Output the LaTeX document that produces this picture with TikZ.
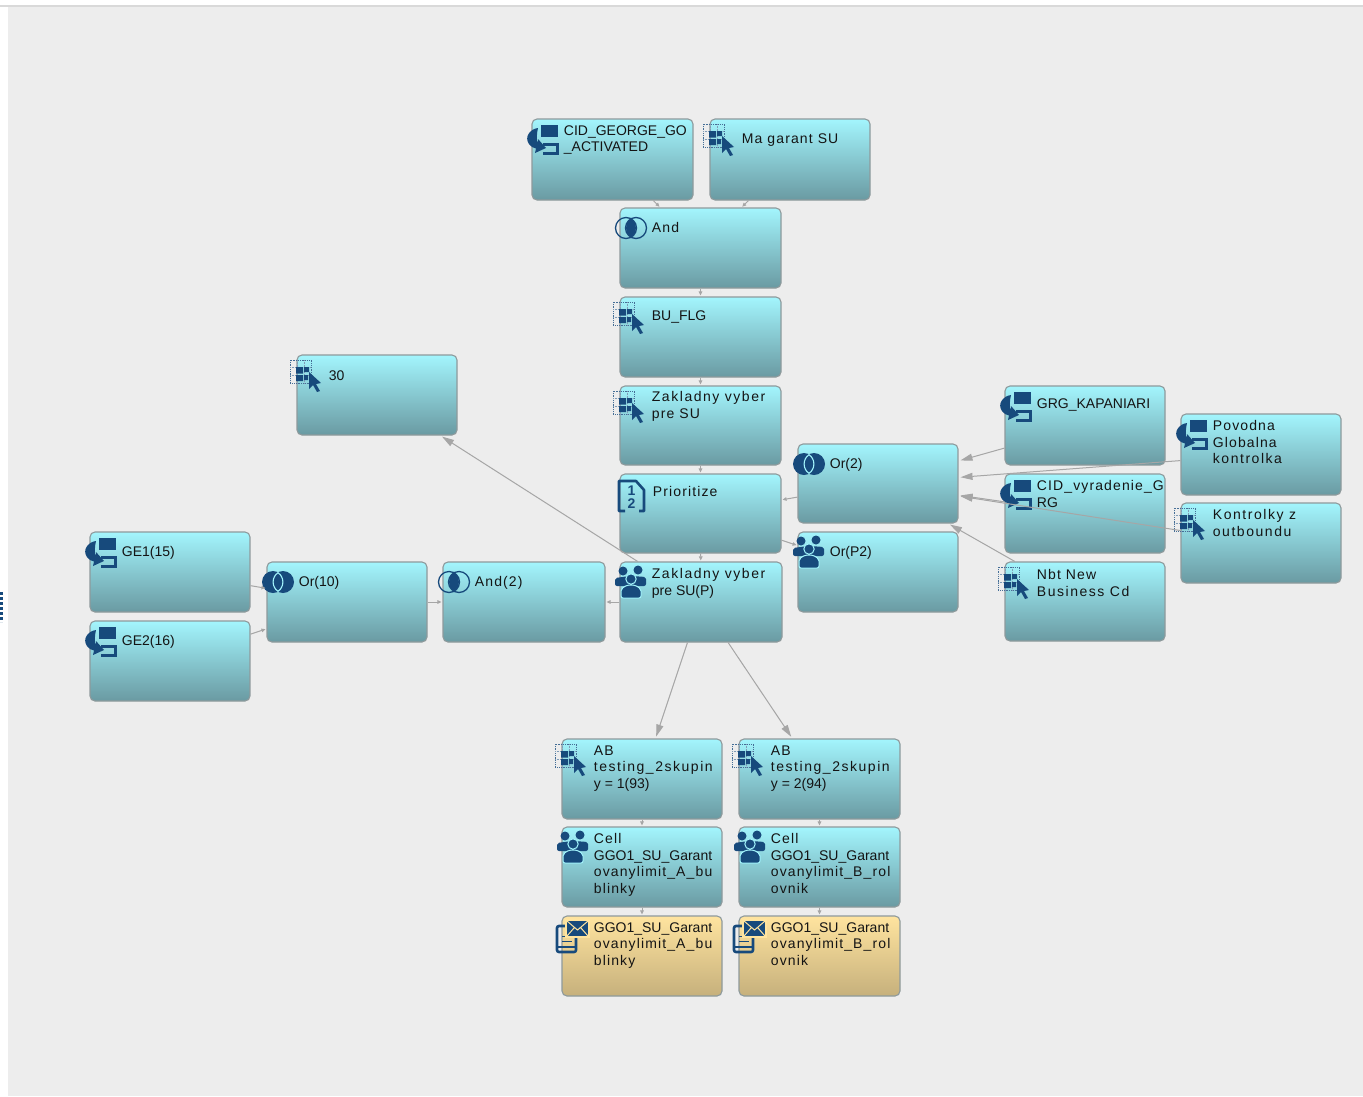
\documentclass[tikz,border=0pt]{standalone}
\usepackage{fontspec}
\usetikzlibrary{arrows.meta}
\setmainfont{Liberation Sans}
\newfontfamily\spc[LetterSpace=8]{Liberation Sans}
\newfontfamily\wsp[LetterSpace=11]{Liberation Sans}
\newfontfamily\pln{Liberation Sans}
\definecolor{icoblue}{HTML}{174A7C}
\definecolor{linegray}{HTML}{A6A6A6}
\definecolor{edgegray}{HTML}{8E9A9C}
\definecolor{tealtop}{HTML}{A3F5FD}
\definecolor{tealbot}{HTML}{6A9AA2}
\definecolor{sandtop}{HTML}{FFE49F}
\definecolor{sandbot}{HTML}{C6B07C}
\tikzset{
  tealbox/.style={draw=edgegray,line width=1.1pt,rounded corners=5pt,inner sep=0pt,top color=tealtop,bottom color=tealbot},
  sandbox/.style={draw=edgegray,line width=1.1pt,rounded corners=5pt,inner sep=0pt,top color=sandtop,bottom color=sandbot},
  txt/.style={anchor=north west,inner sep=0pt,align=left,text=black!92,font=\fontsize{14}{16.5}\selectfont\spc},
  conn/.style={draw=linegray,line width=1pt,shorten >=2pt,-{Triangle[length=12pt,width=7pt,fill=linegray]}},
  tiny/.style={draw=linegray,line width=1pt,shorten >=1pt,-{Triangle[length=4pt,width=3.5pt,fill=linegray]}},
  icondb/.pic={
    \fill[icoblue] (-2,-14) rectangle (15,-2);
    \draw[icoblue,line width=3pt] (0,5.5) -- (14,5.5) -- (14,14.5) -- (0,14.5);
    \fill[icoblue] (-5,-11) .. controls (-13,-10) and (-19,-2) .. (-14,5) .. controls (-12,8) and (-9,9) .. (-7,9.5) -- (-8,14) -- (3,9) -- (-5,0) -- (-5.5,4) .. controls (-7,2) and (-6,-7) .. (-5,-11) -- cycle;
  },
  iconsel/.pic={
    \draw[icoblue!80,line width=.8pt,densely dotted] (-18,-15) rectangle (3,8);
    \draw[icoblue!55,line width=.5pt,densely dotted] (-11,-15) -- (-11,8) (-4,-15) -- (-4,8) (-18,-8) -- (3,-8) (-18,0) -- (3,0);
    \fill[icoblue] (-12,-8) rectangle (-5,-1.5) (-4,-8) rectangle (1,-3) (-12,0) rectangle (-5,6) (-4,0) rectangle (0,5);
    \fill[icoblue] (1,-3) -- (13,8) -- (8,9) -- (12,16) -- (9,17) -- (5,10) -- (1,14) -- cycle;
  },
  iconand/.pic={
    \draw[icoblue,line width=1.3pt] (-5,0) circle[radius=10.5] (5,0) circle[radius=10.5];
    \fill[icoblue] (0,-9.3) .. controls (6.5,-5) and (6.5,5) .. (0,9.3) .. controls (-6.5,5) and (-6.5,-5) .. (0,-9.3) -- cycle;
  },
  iconor/.pic={
    \fill[icoblue] (-5,0) circle[radius=11] (5,0) circle[radius=11];
    \draw[tealtop,line width=1.1pt] (0,-9.3) .. controls (6.5,-5) and (6.5,5) .. (0,9.3) .. controls (-6.5,5) and (-6.5,-5) .. (0,-9.3) -- cycle;
  },
  iconppl/.pic={
    \fill[icoblue] (-8,-11) circle[radius=4.5] (7,-12) circle[radius=4.5];
    \fill[icoblue,rounded corners=2pt] (-16,4) -- (-16,-4) -- (-1,-6) -- (-1,4) -- cycle;
    \fill[icoblue,rounded corners=2pt] (1,4) -- (1,-6) -- (15,-5) -- (15,4) -- cycle;
    \draw[tealtop,line width=1pt,fill=icoblue] (0,-3) circle[radius=5.2];
    \draw[tealtop,line width=1pt,fill=icoblue,rounded corners=2pt] (-10,16) -- (-10,7) -- (-4,3) -- (4,3) -- (10,7) -- (10,16) -- cycle;
  },
  iconprio/.pic={
    \draw[icoblue,line width=2.6pt,line join=round] (-6,16) -- (-12,16) -- (-12,-14) -- (5,-14) -- (13,-5) -- (13,16) -- (8,16);
    \node[inner sep=0pt,text=icoblue,font=\fontsize{14}{14}\selectfont\bfseries\pln] (prioa) at (0.5,-4) {1};
    \node[inner sep=0pt,text=icoblue,font=\fontsize{14}{14}\selectfont\bfseries\pln] (priob) at (0.5,9) {2};
  },
  iconmail/.pic={
    \draw[icoblue,line width=2.6pt,rounded corners=2pt] (-16,-10) rectangle (3,16);
    \draw[icoblue,line width=1.6pt] (-16,11) -- (3,11);
    \draw[icoblue,line width=1pt] (-11,0) -- (-4,0) (-11,5) -- (-1,5);
    \fill[sandtop] (-8,-17) rectangle (17,2);
    \fill[icoblue] (-6,-15) rectangle (15,0);
    \draw[sandtop,line width=1pt] (-6,-15) -- (4.5,-6) -- (15,-15) (-6,0) -- (1,-8) (15,0) -- (8,-8);
  },
}
\newcommand{\bx}[9]{%
  \node[#7,minimum width={(#4-#2)*1pt},minimum height={(#5-#3)*1pt}] (#1) at ({(#2+#4)/2},{(#3+#5)/2}) {};
  \pic at ({#2+11},{#3+20}) {#6};
  \node[txt] (#1t) at ({#2+31.7},{#3+#8+2.5}) {#9};
}
\begin{document}
\begin{tikzpicture}[x=1pt,y=-1pt]
\useasboundingbox (0,0) rectangle (1363,1096);
\fill[white] (0,0) rectangle (1363,1096);
\fill[black!7] (8,7) rectangle (1363,1096);
\draw[black!15,line width=2pt] (0,6) -- (1363,6);
\draw[icoblue,line width=3pt,dotted] (1.5,592) -- (1.5,622);

\bx{cidg}{532}{119}{693}{200}{icondb}{tealbox}{4}{{\pln CID\_GEORGE\_GO}\\{\pln \_ACTIVATED}}
\bx{ma}{710}{119}{870}{200}{iconsel}{tealbox}{12}{Ma garant SU}
\bx{andn}{620}{208}{781}{288}{iconand}{tealbox}{12}{And}
\bx{bu}{620}{297}{781}{377}{iconsel}{tealbox}{11}{{\pln BU\_FLG}}
\bx{zak}{620}{386}{781}{465}{iconsel}{tealbox}{3}{{\wsp Zakladny vyber}\\pre SU}
\node[tealbox,minimum width=161pt,minimum height=79pt] (pri) at (700.5,513.5) {};
\pic at (631,495) {iconprio};
\node[txt] (prit) at (652.7,486.5) {Prioritize};
\bx{thirty}{297}{355}{457}{435}{iconsel}{tealbox}{13}{{\pln 30}}
\bx{ortwo}{798}{444}{958}{523}{iconor}{tealbox}{12}{{\pln Or(2)}}
\bx{orptwo}{798}{532}{958}{612}{iconppl}{tealbox}{12}{{\pln Or(P2)}}
\bx{grg}{1005}{386}{1165}{465}{icondb}{tealbox}{10}{{\pln GRG\_KAPANIARI}}
\bx{cidv}{1005}{474}{1165}{553}{icondb}{tealbox}{4}{CID\_vyradenie\_G\\{\pln RG}}
\bx{nbt}{1005}{562}{1165}{641}{iconsel}{tealbox}{5}{Nbt New\\{\wsp Business Cd}}
\bx{pov}{1181}{414}{1341}{495}{icondb}{tealbox}{4}{Povodna\\Globalna\\{\wsp kontrolka}}
\bx{kon}{1181}{503}{1341}{583}{iconsel}{tealbox}{4}{{\wsp Kontrolky z}\\{\wsp outboundu}}
\bx{geone}{90}{532}{250}{612}{icondb}{tealbox}{12}{{\pln GE1(15)}}
\bx{getwo}{90}{621}{250}{701}{icondb}{tealbox}{12}{{\pln GE2(16)}}
\bx{orten}{267}{562}{427}{642}{iconor}{tealbox}{12}{{\pln Or(10)}}
\bx{andtwo}{443}{562}{605}{642}{iconand}{tealbox}{12}{And(2)}
\bx{zakp}{620}{562}{782}{642}{iconppl}{tealbox}{4}{{\wsp Zakladny vyber}\\{\pln pre SU(P)}}
\bx{aba}{562}{739}{722}{819}{iconsel}{tealbox}{4}{AB\\{\wsp testing\_2skupin}\\{\pln y = 1(93)}}
\bx{abb}{739}{739}{900}{819}{iconsel}{tealbox}{4}{AB\\{\wsp testing\_2skupin}\\{\pln y = 2(94)}}
\bx{cella}{562}{827}{722}{907}{iconppl}{tealbox}{4}{Cell\\{\pln GGO1\_SU\_Garant}\\ovanylimit\_A\_bu\\blinky}
\bx{cellb}{739}{827}{900}{907}{iconppl}{tealbox}{4}{Cell\\{\pln GGO1\_SU\_Garant}\\ovanylimit\_B\_rol\\ovnik}
\bx{maila}{562}{916}{722}{996}{iconmail}{sandbox}{4}{{\pln GGO1\_SU\_Garant}\\ovanylimit\_A\_bu\\blinky}
\bx{mailb}{739}{916}{900}{996}{iconmail}{sandbox}{4}{{\pln GGO1\_SU\_Garant}\\ovanylimit\_B\_rol\\ovnik}

\draw[tiny] (cidg) -- (andn);
\draw[tiny] (ma) -- (andn);
\draw[tiny] (andn) -- (bu);
\draw[tiny] (bu) -- (zak);
\draw[tiny] (zak) -- (pri);
\draw[tiny] (pri) -- (zakp);
\draw[tiny] (ortwo) -- (pri);
\draw[tiny] (pri) -- (orptwo);
\draw[conn] (grg) -- (ortwo);
\draw[conn] (pov) -- (ortwo);
\draw[conn] (cidv) -- (ortwo);
\draw[conn] (kon) -- (ortwo);
\draw[conn] (nbt) -- (ortwo);
\draw[conn] (zakp) -- (thirty);
\draw[conn] (zakp) -- (aba);
\draw[conn] (zakp) -- (abb);
\draw[tiny] (zakp) -- (andtwo);
\draw[tiny] (orten) -- (andtwo);
\draw[tiny] (geone) -- (orten);
\draw[tiny] (getwo) -- (orten);
\draw[tiny] (aba) -- (cella);
\draw[tiny] (abb) -- (cellb);
\draw[tiny] (cella) -- (maila);
\draw[tiny] (cellb) -- (mailb);
\end{tikzpicture}
\end{document}
